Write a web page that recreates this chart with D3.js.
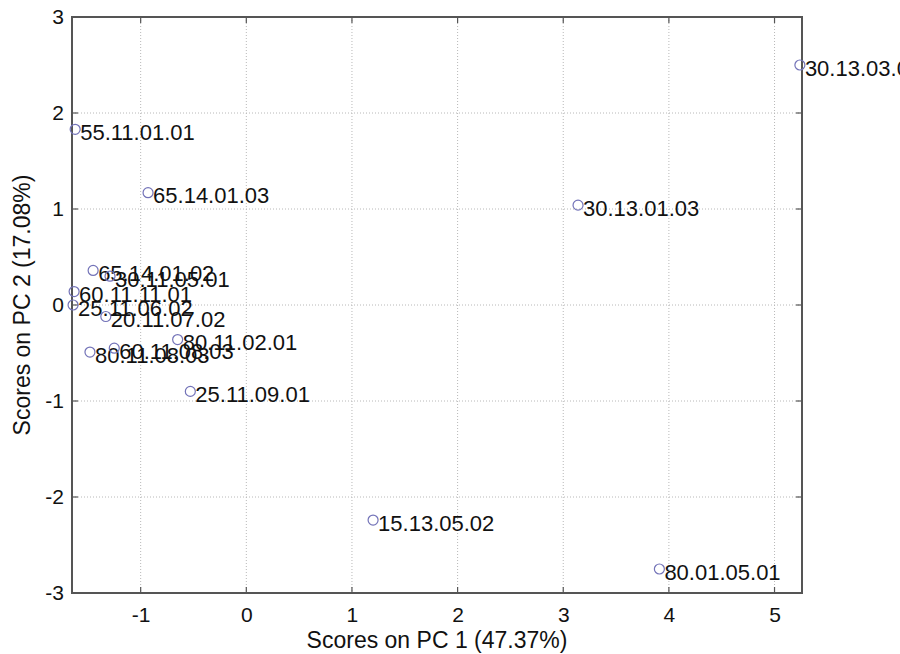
<!DOCTYPE html>
<html>
<head>
<meta charset="utf-8">
<script src="https://cdnjs.cloudflare.com/ajax/libs/d3/7.8.5/d3.min.js"></script>
<style>
  html, body { margin: 0; padding: 0; background: #fff; }
  svg { display: block; font-family: "Liberation Sans", Arial, sans-serif; }
</style>
</head>
<body>
<div id="chart"></div>
<script>
'use strict';

// PCA scores
const sampleNames = [
  '30.13.03.01', '55.11.01.01', '65.14.01.03', '30.13.01.03',
  '65.14.01.02', '30.11.05.01', '60.11.11.01', '25.11.06.02',
  '20.11.07.02', '80.11.08.03', '60.11.08.03', '80.11.02.01',
  '25.11.09.01', '15.13.05.02', '80.01.05.01'
];
const pc1Scores = [5.24, -1.62, -0.93, 3.14, -1.45, -1.29, -1.63, -1.64, -1.33, -1.48, -1.25, -0.65, -0.53, 1.20, 3.91];
const pc2Scores = [2.50, 1.83, 1.17, 1.04, 0.36, 0.30, 0.14, 0.00, -0.12, -0.49, -0.45, -0.36, -0.90, -2.24, -2.75];

const xTicks = [-1, 0, 1, 2, 3, 4, 5];
const yTicks = [-3, -2, -1, 0, 1, 2, 3];
const xTitle = 'Scores on PC 1 (47.37%)';
const yTitle = 'Scores on PC 2 (17.08%)';

const width = 900, height = 654;
const margin = { top: 17, right: 98, bottom: 61, left: 72 };

const svg = d3.select('#chart').append('svg')
  .attr('width', width)
  .attr('height', height);

const x = d3.scaleLinear().domain([-1.65, 5.26]).range([margin.left, width - margin.right]);
const y = d3.scaleLinear().domain([-3, 3]).range([height - margin.bottom, margin.top]);

const [x0, x1] = x.range();
const [y0, y1] = [y.range()[1], y.range()[0]];

// Dotted grid
const grid = svg.append('g').attr('stroke', '#b8b8b8').attr('stroke-dasharray', '1,2');
grid.selectAll('.vgrid').data(xTicks).enter().append('line')
  .attr('x1', d => x(d)).attr('x2', d => x(d))
  .attr('y1', y0).attr('y2', y1);
grid.selectAll('.hgrid').data(yTicks).enter().append('line')
  .attr('x1', x0).attr('x2', x1)
  .attr('y1', d => y(d)).attr('y2', d => y(d));

// Inward ticks on every side
const tickLen = 6;
const ticks = svg.append('g').attr('stroke', '#555').attr('stroke-width', 1.2);
xTicks.forEach(t => {
  ticks.append('line').attr('x1', x(t)).attr('x2', x(t)).attr('y1', y1).attr('y2', y1 - tickLen);
  ticks.append('line').attr('x1', x(t)).attr('x2', x(t)).attr('y1', y0).attr('y2', y0 + tickLen);
});
yTicks.forEach(t => {
  ticks.append('line').attr('x1', x0).attr('x2', x0 + tickLen).attr('y1', y(t)).attr('y2', y(t));
  ticks.append('line').attr('x1', x1).attr('x2', x1 - tickLen).attr('y1', y(t)).attr('y2', y(t));
});

// Axes (labels only, box drawn separately)
const xAxis = svg.append('g')
  .attr('transform', `translate(0,${y1})`)
  .call(d3.axisBottom(x).tickValues(xTicks).tickSize(0).tickPadding(14).tickFormat(d3.format('d')));
const yAxis = svg.append('g')
  .attr('transform', `translate(${x0},0)`)
  .call(d3.axisLeft(y).tickValues(yTicks).tickSize(0).tickPadding(8).tickFormat(d3.format('d')));
[xAxis, yAxis].forEach(a => {
  a.select('.domain').remove();
  a.selectAll('text')
    .attr('fill', '#111')
    .style('font-size', '21px')
    .style('font-family', '"Liberation Sans", Arial, sans-serif');
});
xAxis.selectAll('text').text(d => d < 0 ? '-' + Math.abs(d) : d);
yAxis.selectAll('text').text(d => d < 0 ? '-' + Math.abs(d) : d);

// Box
svg.append('rect')
  .attr('x', x0).attr('y', y0)
  .attr('width', x1 - x0).attr('height', y1 - y0)
  .attr('fill', 'none')
  .attr('stroke', '#555')
  .attr('stroke-width', 2);

// Points and labels
const points = svg.append('g').selectAll('.pt')
  .data(sampleNames.map((name, i) => ({ name, pc1: pc1Scores[i], pc2: pc2Scores[i] })))
  .enter().append('g')
  .attr('transform', d => `translate(${x(d.pc1)},${y(d.pc2)})`);

points.append('circle')
  .attr('r', 5)
  .attr('fill', 'none')
  .attr('stroke', '#7373b8')
  .attr('stroke-width', 1.2);

points.append('text')
  .attr('x', 5)
  .attr('y', 3)
  .attr('dy', '0.35em')
  .attr('fill', '#111')
  .style('font-size', '22px')
  .text(d => d.name);

// Axis titles
svg.append('text')
  .attr('x', (x0 + x1) / 2)
  .attr('y', 648)
  .attr('text-anchor', 'middle')
  .attr('fill', '#111')
  .style('font-size', '23px')
  .text(xTitle);

svg.append('text')
  .attr('transform', `translate(30,${(y0 + y1) / 2}) rotate(-90)`)
  .attr('text-anchor', 'middle')
  .attr('fill', '#111')
  .style('font-size', '23px')
  .text(yTitle);
</script>
</body>
</html>
